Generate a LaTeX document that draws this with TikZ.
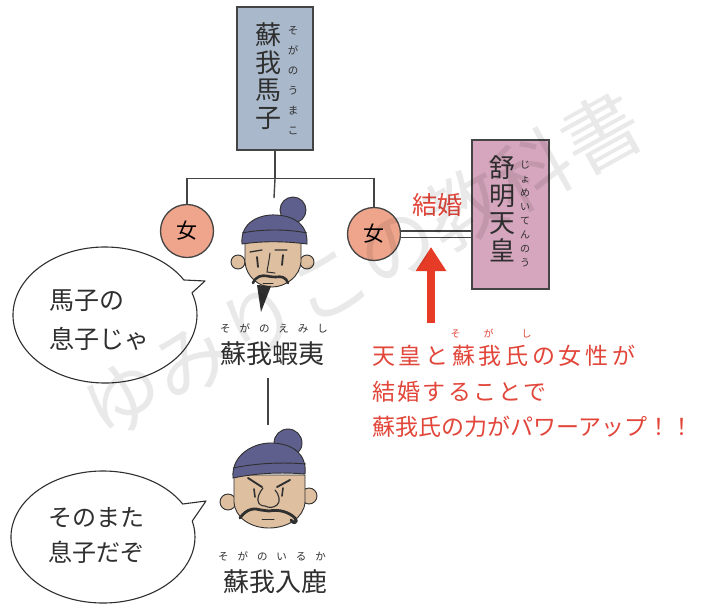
\documentclass[tikz,border=0pt]{standalone}
\usepackage{fontspec}
\setmainfont{Noto Sans CJK JP}
\newfontfamily\rubyspaced[LetterSpace=85]{Noto Sans CJK JP}
\newfontfamily\redwide[LetterSpace=16]{Noto Sans CJK JP}
\newfontfamily\redspaced[LetterSpace=10]{Noto Sans CJK JP}
\usetikzlibrary{arrows.meta}
\definecolor{boxblue}{HTML}{A9B9CB}
\definecolor{boxpink}{HTML}{D5A6BD}
\definecolor{womanfill}{HTML}{EFA58B}
\definecolor{hatcol}{HTML}{5F5F8E}
\definecolor{skincol}{HTML}{DEBFA0}
\definecolor{redtext}{HTML}{E2463A}
\definecolor{arrowred}{HTML}{E63B27}
\definecolor{ink}{HTML}{2F2F2F}
\definecolor{lineink}{HTML}{444444}
\begin{document}
\begin{tikzpicture}[x=1pt, y=-1pt,
  namebox/.style={draw=lineink, line width=1.3pt, inner sep=0pt},
  woman/.style={circle, draw=lineink, line width=1.3pt, fill=womanfill,
    minimum size=53pt, inner sep=0pt, font=\fontsize{21}{21}\selectfont},
  link/.style={draw=lineink, line width=1.4pt},
  vname/.style={align=center, text=ink, font=\fontsize{26}{27.5}\selectfont, inner sep=0pt},
  vruby/.style={align=center, text=ink, inner sep=0pt},
  hname/.style={text=ink, font=\fontsize{26}{26}\selectfont, inner sep=0pt},
  hruby/.style={text=ink, font=\fontsize{10.5}{10.5}\rubyspaced, inner sep=0pt},
  bubble/.style={draw=ink, line width=1.1pt, fill=white, line join=round},
  bubbletext/.style={align=left, anchor=west, text=ink, inner sep=0pt},
  redline/.style={anchor=west, text=redtext, inner sep=0pt},
  outline/.style={draw=ink, line width=0.9pt},
  hair/.style={ink, line width=2.6pt, line cap=round, line join=round},
  feature/.style={ink, line width=1.3pt, line cap=round},
]
\fill[white] (0,0) rectangle (725,608);
\useasboundingbox (0,0) rectangle (725,608);

% ---- Soga no Umako ----
\node[namebox, fill=boxblue, minimum width=76pt, minimum height=143pt] (umako) at (275,78.5) {};
\node[vname] (umako-name) at (268,76) {蘇\\我\\馬\\子};
\node[vruby, font=\fontsize{10.5}{20}\selectfont] (umako-ruby) at (293,81) {そ\\が\\の\\う\\ま\\こ};

% ---- Emperor Jomei ----
\node[namebox, fill=boxpink, minimum width=77pt, minimum height=149pt] (jomei) at (510.5,214.5) {};
\node[vname] (jomei-name) at (502,209) {舒\\明\\天\\皇};
\node[vruby, font=\fontsize{10}{14}\selectfont] (jomei-ruby) at (525,214) {じ\\ょ\\め\\い\\て\\ん\\の\\う};

% ---- daughters ----
\node[woman] (w1) at (187,231) {女};
\node[woman] (w2) at (374,234) {女};

% ---- family tree lines ----
\coordinate (emishi-top) at (274,198);
\draw[link] (umako.south) -- ++(0,28) coordinate (fork);
\draw[link] (w1.north) |- (fork) -| (w2.north);
\draw[link] (fork) -- (emishi-top);
\draw[draw=lineink, line width=1.3pt, double=white, double distance=5pt]
  (w2.east) -- (w2.east -| jomei.west);
\node[text=redtext, font=\fontsize{25}{25}\selectfont, inner sep=0pt] (kekkon) at (437,205) {結婚};

% ---- red arrow ----
\coordinate (arrow-foot) at (431,323);
\coordinate (arrow-tip) at (431,247);
\draw[arrowred, line width=8pt, -{Triangle[length=24pt,width=29pt]}] (arrow-foot) -- (arrow-tip);

% ---- explanation ----
\node[redline, font=\fontsize{23}{23}\redwide] (expl1) at (372,356) {天皇と蘇我氏の女性が};
\node[text=redtext, font=\fontsize{10}{10}\selectfont, inner sep=0pt] (expl-ruby) at (491,334) {そ\hspace{23pt}が\hspace{28pt}し};
\node[redline, font=\fontsize{23}{23}\redspaced] (expl2) at (372,392) {結婚することで};
\node[redline, font=\fontsize{23}{23}\selectfont] (expl3) at (372,427) {蘇我氏の力がパワーアップ！！};

% ---- Soga no Emishi ----
\begin{scope}[shift={(272,262)}]
  \filldraw[fill=hatcol, outline] (21,-52) circle (13pt);
  \filldraw[fill=skincol, outline] (-34,0) circle (7pt) (35,0) circle (7pt);
  \filldraw[fill=skincol, outline] (-27,-22) -- (-27,0) .. controls (-26,14) and (-14,25) .. (0,25)
     .. controls (14,25) and (28,14) .. (29,0) -- (29,-22) -- cycle;
  \fill[ink] (-15,23) -- (-1,24) -- (-11,50) -- cycle;
  \filldraw[fill=hatcol, outline] (-30,-18) .. controls (-32,-40) and (-12,-48) .. (4,-47)
     .. controls (22,-46) and (36,-38) .. (35,-18) .. controls (12,-21) and (-10,-21) .. (-30,-18) -- cycle;
  \draw[outline] (-30,-29) .. controls (-10,-33) and (15,-33) .. (35,-29);
  \draw[feature] (-22,-10) -- (-10,-12) (3,-12) -- (15,-12);
  \draw[feature, line width=1.8pt] (-15,-5) -- (-14,5) (11,-7) -- (10,3);
  \draw[feature, line width=1pt] (-2,-9) .. controls (-3,0) and (-5,8) .. (-5,10) -- (3,11);
  \draw[hair] (-19,21) .. controls (-16,14) and (-10,13) .. (-5,14) .. controls (0,15) and (2,15) .. (4,15)
     .. controls (9,14) and (14,15) .. (16,21);
  \draw[feature, line width=1pt] (-9,21.5) -- (1,21.5);
\end{scope}
\node[hruby] (emishi-ruby) at (274,328) {そがのえみし};
\node[hname] (emishi-name) at (272,354) {蘇我蝦夷};

\coordinate (descent-top) at (268,378);
\coordinate (descent-bottom) at (268,425);
\draw[link] (descent-top) -- (descent-bottom);

% ---- Soga no Iruka ----
\begin{scope}[shift={(269,500)}]
  \filldraw[fill=hatcol, outline] (19,-57) circle (14pt);
  \filldraw[fill=skincol, outline] (-41,2) circle (8pt) (40,-4) circle (8pt);
  \filldraw[fill=skincol, outline] (-35,-25) -- (-35,2) .. controls (-34,18) and (-18,28) .. (0,28)
     .. controls (18,28) and (35,18) .. (36,2) -- (36,-25) -- cycle;
  \filldraw[fill=hatcol, outline] (-36,-22) .. controls (-38,-46) and (-14,-58) .. (4,-57)
     .. controls (24,-56) and (38,-46) .. (36,-26) .. controls (12,-28) and (-12,-27) .. (-36,-22) -- cycle;
  \draw[outline] (-36,-32) .. controls (-12,-37) and (14,-38) .. (37,-36);
  \draw[feature, line width=1.9pt] (-21,-22) -- (-7,-13) (8,-13) -- (21,-20);
  \draw[feature, line width=1.6pt] (-15,-11) -- (-14,-3) (14,-12) -- (13,-4);
  \draw[feature, line width=1.1pt] (-6,-12) .. controls (-14,-2) and (-12,6) .. (-4,6)
     .. controls (0,8) and (4,8) .. (8,5) .. controls (12,2) and (10,-6) .. (6,-10);
  \draw[hair, line width=2.8pt] (-29,18) .. controls (-22,8) and (-14,8) .. (-8,10) -- (0,11)
     .. controls (10,9) and (20,12) .. (26,18) .. controls (30,22) and (24,25) .. (22,20);
  \draw[feature, line width=1pt] (-7,19) -- (5,19);
\end{scope}
\node[hruby] (iruka-ruby) at (272,556) {そがのいるか};
\node[hname] (iruka-name) at (275,582) {蘇我入鹿};

% ---- speech bubbles ----
\coordinate (bubble1-c) at (105,315);
\coordinate (bubble1-tip) at (205,281);
\draw[bubble] (bubble1-c) ++(31:92pt and 68pt)
  arc[start angle=31, end angle=379, x radius=92pt, y radius=68pt] -- (bubble1-tip) -- cycle;
\node[bubbletext, font=\fontsize{25}{39}\selectfont] (bubble1-text) at (49,320) {馬子の\\息子じゃ};

\coordinate (bubble2-c) at (103,537);
\coordinate (bubble2-tip) at (206,501);
\draw[bubble] (bubble2-c) ++(30:92pt and 66pt)
  arc[start angle=30, end angle=374, x radius=92pt, y radius=66pt] -- (bubble2-tip) -- cycle;
\node[bubbletext, font=\fontsize{24}{35}\selectfont] (bubble2-text) at (48,535) {そのまた\\息子だぞ};

% ---- watermark ----
\node[rotate=29, text=black, opacity=0.085, font=\fontsize{78}{78}\selectfont, inner sep=0pt] (mark) at (362,265) {ゆみりこの教科書};
\end{tikzpicture}
\end{document}
